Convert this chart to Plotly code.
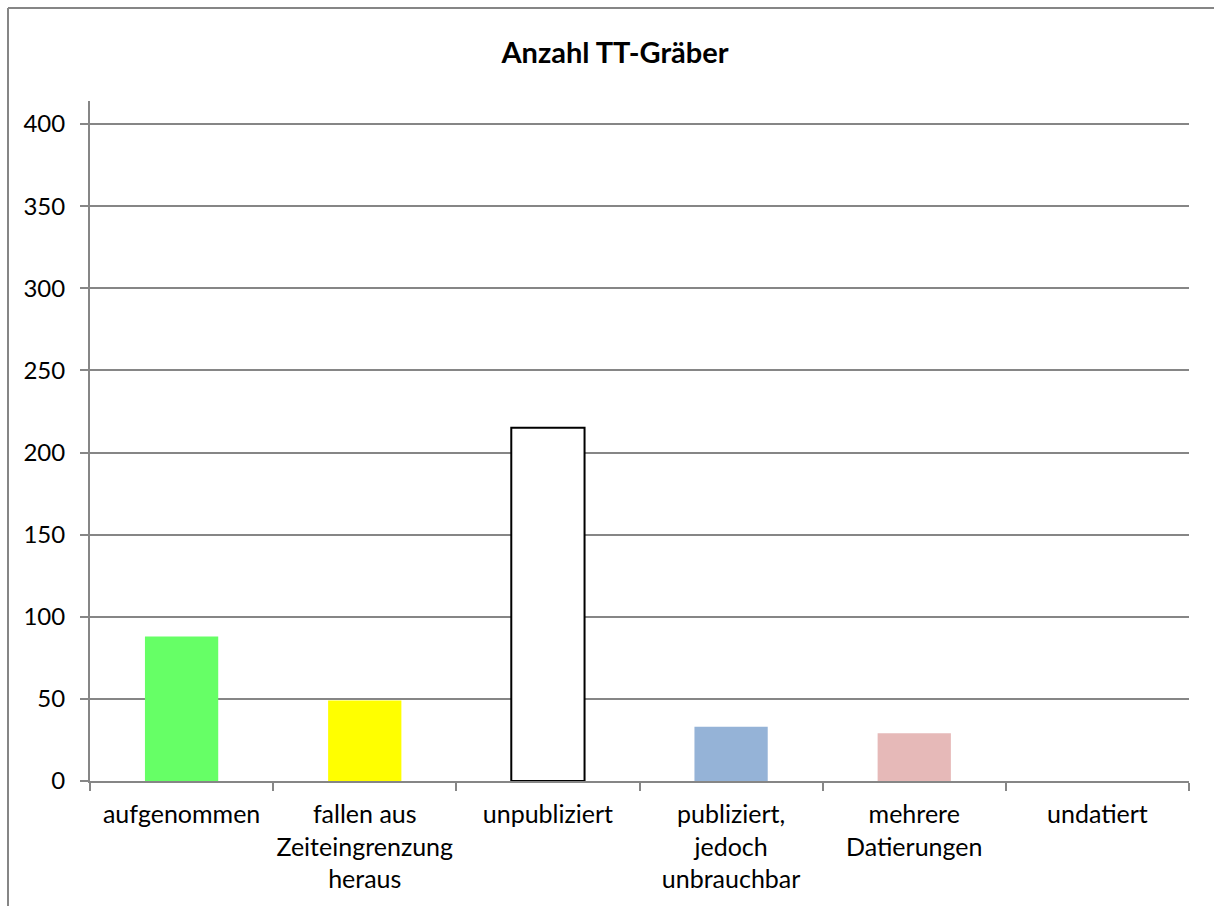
import plotly.graph_objects as go

categories = [
    "aufgenommen",
    "fallen aus<br>Zeiteingrenzung<br>heraus",
    "unpubliziert",
    "publiziert,<br>jedoch<br>unbrauchbar",
    "mehrere<br>Datierungen",
    "undatiert",
]
counts = [88, 49, 215, 33, 29, 0]
bar_colors = ["#66FF66", "#FFFF00", "#FFFFFF", "#95B3D7", "#E6B9B8", "#FFFFFF"]
outline_widths = [0, 0, 2, 0, 0, 0]
y_ticks = [0, 50, 100, 150, 200, 250, 300, 350, 400]

W, H = 1214, 906
L, R, T, B = 90, 25, 101, 125
FONT = "Lato"
GRAY = "#868686"

fig = go.Figure(
    go.Bar(
        x=categories,
        y=counts,
        width=0.4,
        marker=dict(
            color=bar_colors,
            line=dict(color="#000000", width=outline_widths),
        ),
        hoverinfo="x+y",
    )
)

fig.update_layout(
    width=W,
    height=H,
    margin=dict(l=L, r=R, t=T, b=B, autoexpand=False),
    paper_bgcolor="white",
    plot_bgcolor="white",
    showlegend=False,
    font=dict(family=FONT, size=25, color="#000000"),
    title=dict(
        text="<b>Anzahl TT-Gräber</b>",
        x=615 / W,
        xanchor="center",
        xref="container",
        y=1 - 53 / H,
        yanchor="middle",
        yref="container",
        font=dict(family=FONT, size=29, color="#000000"),
    ),
)

fig.update_xaxes(
    type="category",
    tickson="boundaries",
    ticks="outside",
    ticklen=8,
    tickwidth=2,
    tickcolor=GRAY,
    showline=True,
    linecolor=GRAY,
    linewidth=2,
    showgrid=False,
    tickangle=0,
    automargin=False,
    tickfont=dict(family=FONT, size=25, color="#000000"),
    ticklabelstandoff=10,
)

plot_h = H - T - B
y_top = 400 * plot_h / (plot_h - (124 - T))

fig.update_yaxes(
    range=[0, y_top],
    tickvals=y_ticks,
    ticks="outside",
    ticklen=8,
    tickwidth=2,
    tickcolor=GRAY,
    showline=True,
    linecolor=GRAY,
    linewidth=2,
    showgrid=True,
    gridcolor=GRAY,
    gridwidth=1.5,
    zeroline=False,
    automargin=False,
    tickfont=dict(family=FONT, size=24, color="#000000"),
    ticklabelstandoff=10,
)

# Outer chart frame: top and left edges (the others run off the page)
plot_w = W - L - R
frame_x0 = (8 - L) / plot_w
frame_y1 = (H - B - 8) / plot_h
fig.add_shape(
    type="line", xref="paper", yref="paper",
    x0=frame_x0, x1=(W + 50 - L) / plot_w, y0=frame_y1, y1=frame_y1,
    line=dict(color=GRAY, width=2), layer="below",
)
fig.add_shape(
    type="line", xref="paper", yref="paper",
    x0=frame_x0, x1=frame_x0, y0=-(B + 50) / plot_h, y1=frame_y1,
    line=dict(color=GRAY, width=2), layer="below",
)

fig.write_html("out.html")
